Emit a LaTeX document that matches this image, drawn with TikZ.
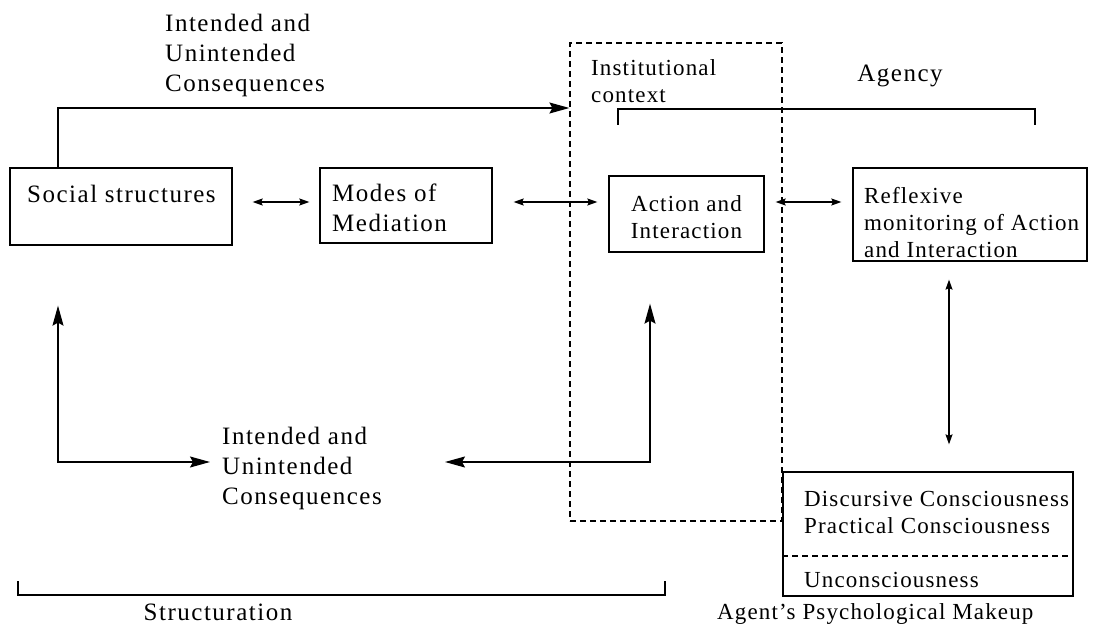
\documentclass[tikz,border=0pt]{standalone}
\usepackage{fontspec}
\setmainfont{Liberation Serif}
\newfontfamily\wideserif[LetterSpace=6]{Liberation Serif}
\newfontfamily\narrowserif[LetterSpace=5]{Liberation Serif}
\usetikzlibrary{arrows.meta,calc}

\begin{document}
\begin{tikzpicture}[x=1pt,y=-1pt,
  bigtxt/.style={font=\wideserif\fontsize{25}{30}\selectfont, inner sep=0pt, align=left},
  smalltxt/.style={font=\narrowserif\fontsize{23}{27}\selectfont, inner sep=0pt, align=left},
  box/.style={draw, line width=1.3pt, inner sep=0pt, fill=white},
  link/.style={line width=1.2pt,
    {Stealth[length=10pt,width=7pt,inset=1.5pt]}-{Stealth[length=10pt,width=7pt,inset=1.5pt]}},
  flow/.style={line width=1.4pt, -{Stealth[length=20pt,width=11pt,inset=3pt]}},
  flows/.style={line width=1.4pt,
    {Stealth[length=20pt,width=11pt,inset=3pt]}-{Stealth[length=20pt,width=11pt,inset=3pt]}},
  frame/.style={draw, line width=1.2pt, dash pattern=on 6pt off 4pt, inner sep=0pt},
  divider/.style={line width=1.2pt, dash pattern=on 6pt off 4pt},
  bracket/.style={line width=1.2pt}
]
\path[use as bounding box, fill=white] (0,0) rectangle (1094,628);

% institutional context frame (drawn first, boxes sit on top)
\node[frame, minimum width=212pt, minimum height=478pt] (inst) at (676,282) {};

% boxes
\node[box, minimum width=222pt, minimum height=77pt] (soc) at (121,206.5) {};
\node[box, minimum width=172pt, minimum height=75pt] (mod) at (406,205.5) {};
\node[box, minimum width=155pt, minimum height=76pt] (act) at (686.5,214) {};
\node[box, minimum width=234pt, minimum height=93pt] (ref) at (970,214.5) {};
\node[box, minimum width=290pt, minimum height=124pt] (psy) at (928,534) {};

% box texts
\node[bigtxt, anchor=west] (soct) at (27,194) {Social structures};
\node[bigtxt, anchor=west] (modt) at (332,208) {Modes of\\Mediation};
\node[smalltxt, align=center] (actt) at (686.5,217) {Action and\\Interaction};
\node[smalltxt, anchor=west] (reft) at (864,223) {Reflexive\\monitoring of Action\\and Interaction};
\node[smalltxt, anchor=west] (psyt) at (804,512) {Discursive Consciousness\\Practical Consciousness};
\node[smalltxt, anchor=west] (unct) at (804,580) {Unconsciousness};

% free labels
\node[smalltxt, anchor=west] (agent) at (717,614) {Agent’s Psychological Makeup};
\node[smalltxt, anchor=west] (instt) at (591,81.5) {Institutional\\context};
\node[bigtxt] (agency) at (900,76) {Agency};
\node[bigtxt, anchor=west] (topc) at (165,55) {Intended and\\Unintended\\Consequences};
\node[bigtxt, anchor=west] (botc) at (222,468) {Intended and\\Unintended\\Consequences};
\node[bigtxt] (struct) at (218,612) {Structuration};

% divider inside the psychological makeup box
\coordinate (div) at (0,556);
\draw[divider] (psy.west |- div) -- (psy.east |- div);

% connectors
\coordinate (bend) at (58,108);
\draw[flow] (soc.north -| bend) -- (bend) -- (inst.west |- bend);

\coordinate (row) at (0,202);
\draw[link] ($(soc.east |- row)+(20,0)$) -- ($(mod.west |- row)+(-10,0)$);
\draw[link] ($(mod.east |- row)+(21,0)$) -- ($(act.west |- row)+(-11,0)$);
\draw[link] ($(act.east |- row)+(11,0)$) -- ($(ref.west |- row)+(-11,0)$);

\coordinate (col) at (949,0);
\draw[link] ($(ref.south -| col)+(0,18)$) -- ($(psy.north -| col)+(0,-27)$);

\coordinate (lcorner) at (58,462);
\draw[flows] ($(soc.south -| lcorner)+(0,60)$) -- (lcorner) -- ($(botc.west |- lcorner)+(-12,0)$);

\coordinate (rcorner) at (650,462);
\draw[flows] ($(act.south -| rcorner)+(0,51)$) -- (rcorner) -- (445,462);

% brackets
\draw[bracket] (618,125) -- (618,109) -- (1035,109) -- (1035,125);
\draw[bracket] (18,581) -- (18,595) -- (665,595) -- (665,581);
\end{tikzpicture}
\end{document}
